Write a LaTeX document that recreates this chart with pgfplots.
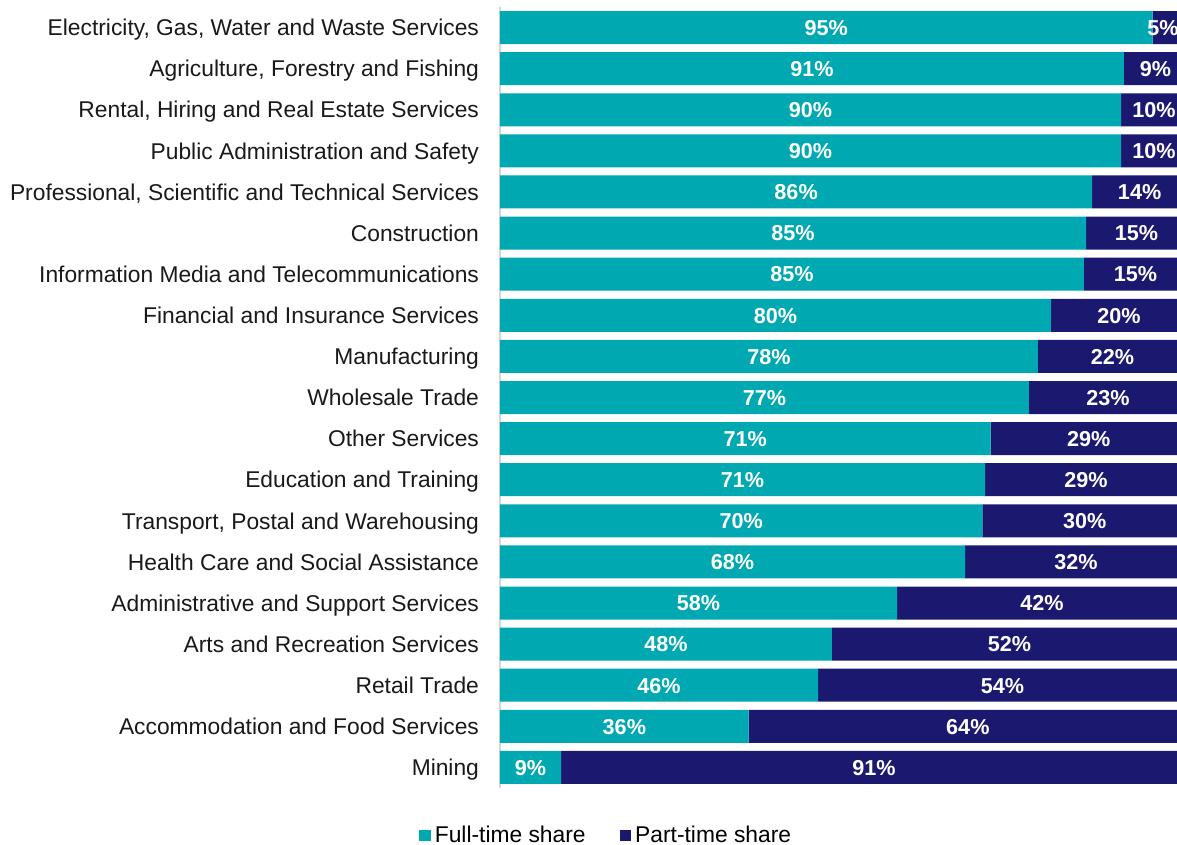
\documentclass[border=0pt]{standalone}
\usepackage{pgfplots}
\pgfplotsset{compat=1.18}
\usepackage{pgfplotstable}
\usepackage{fontspec}
\setmainfont{Liberation Sans}
\definecolor{ftc}{RGB}{0,168,178}
\definecolor{ptc}{RGB}{27,24,112}
\pgfplotstableread{
y full part
0 95.0 5.0
1 90.8 9.2
2 90.4 9.6
3 90.4 9.6
4 86.2 13.8
5 85.3 14.7
6 85.0 15.0
7 80.2 19.8
8 78.3 21.7
9 77.0 23.0
10 71.4 28.6
11 70.6 29.4
12 70.2 29.8
13 67.7 32.3
14 57.8 42.2
15 48.3 51.7
16 46.3 53.7
17 36.2 63.8
18 8.9 91.1
}\datatable
\pgfplotsset{common/.style={width=343.5pt, height=390.5pt, scale only axis,
  xmin=0, xmax=100, ymin=-0.5, ymax=18.5, y dir=reverse},
  lbl/.style={only marks, mark=*, mark size=0pt, mark options={draw=none,fill=none},
  nodes near coords={\pgfmathprintnumber[fixed,precision=0]{\pgfplotspointmeta}\%},
  nodes near coords align=center, point meta=explicit,
  /pgf/number format/assume math mode=true,
  every node near coord/.style={font=\bfseries\fontsize{10.8}{13}\selectfont, text=white, anchor=center,
    text height=7.8pt, text depth=0pt}}}
\begin{document}
\begin{tikzpicture}
\begin{axis}[common, name=ax, xbar stacked, bar width=16.5pt,
  axis x line=none, axis y line=left,
  y axis line style={draw=black!16, -, line width=0.9pt},
  xtick=\empty, ytick={0,...,18}, major tick length=0pt,
  yticklabels={{Electricity, Gas, Water and Waste Services},{Agriculture, Forestry and Fishing},{Rental, Hiring and Real Estate Services},{Public Administration and Safety},{Professional, Scientific and Technical Services},{Construction},{Information Media and Telecommunications},{Financial and Insurance Services},{Manufacturing},{Wholesale Trade},{Other Services},{Education and Training},{Transport, Postal and Warehousing},{Health Care and Social Assistance},{Administrative and Support Services},{Arts and Recreation Services},{Retail Trade},{Accommodation and Food Services},{Mining}},
  yticklabel style={font=\fontsize{11.4}{13}\selectfont, text=black!90, xshift=-7pt,
    text height=8.2pt, text depth=0pt},
  legend style={draw=none, at={(0.156,-0.061)}, anchor=center, font=\fontsize{11.4}{13}\selectfont,
    legend columns=2, /tikz/every even column/.append style={column sep=15pt}},
  legend image code/.code={\fill[#1] (0pt,-2.9pt) rectangle (5.8pt,2.9pt);},
  ]
\addplot[fill=ftc, draw=none] table[x=full, y=y]{\datatable};
\addlegendentry{Full-time share}
\addplot[fill=ptc, draw=none] table[x=part, y=y]{\datatable};
\addlegendentry{Part-time share}
\end{axis}
\begin{axis}[common, hide axis, clip=false]
\addplot[lbl] table[x expr=\thisrow{full}/2, y=y, meta=full]{\datatable};
\addplot[lbl] table[x expr={min(\thisrow{full}+\thisrow{part}/2,96.5)}, y=y, meta=part]{\datatable};
\end{axis}
\pgfresetboundingbox
\path ([shift={(-250pt,-28.5pt)}]ax.south west) rectangle ([shift={(-5pt,3.5pt)}]ax.north east);
\end{tikzpicture}
\end{document}
